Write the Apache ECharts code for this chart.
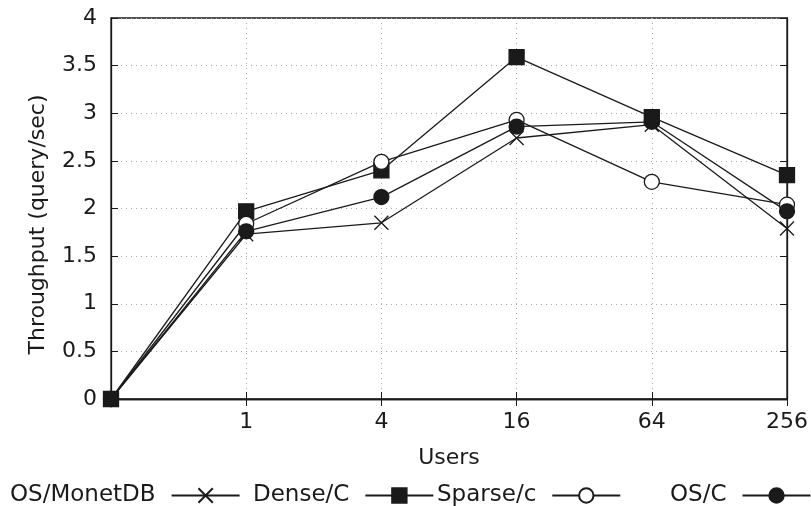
<!DOCTYPE html>
<html>
<head>
    <meta charset="utf-8">
    <title>Throughput vs Users</title>
    <style>
        html, body { margin: 0; padding: 0; background: #fff; }
        #chart { width: 811px; height: 506px; }
    </style>
</head>
<body>
<div id="chart"></div>
<script src="https://cdn.jsdelivr.net/npm/echarts@6/dist/echarts.min.js"></script>
<script type="text/javascript">
    // 数据
    var users = ['0', '1', '4', '16', '64', '256'];
    var yTicks = [0, 0.5, 1, 1.5, 2, 2.5, 3, 3.5, 4];
    var osMonetdb = [0, 1.73, 1.85, 2.74, 2.88, 1.79];
    var denseC = [0, 1.97, 2.40, 3.59, 2.96, 2.35];
    var sparseC = [0, 1.84, 2.49, 2.93, 2.28, 2.04];
    var osC = [0, 1.76, 2.12, 2.86, 2.91, 1.97];

    var ink = '#1a1a1a';
    var font = 'DejaVu Sans';
    var fs = 22;
    var crossPath = 'path://M0,0L10,10M10,0L0,10';

    var myChart = echarts.init(document.getElementById('chart'));

    function legendAt(name, left) {
        return {
            data: [name],
            left: left,
            top: 484,
            padding: 0,
            align: 'right',
            itemWidth: 68,
            itemHeight: 18,
            selectedMode: false,
            textStyle: { fontFamily: font, fontSize: 23, color: ink, padding: [0, 11, 0, 0] }
        };
    }

    function series(name, data, symbol, fill, size) {
        return {
            name: name,
            type: 'line',
            data: data,
            symbol: symbol,
            symbolSize: size,
            clip: false,
            lineStyle: { color: ink, width: 1.3 },
            itemStyle: { color: fill, borderColor: ink, borderWidth: 1.3 },
            emphasis: { disabled: true }
        };
    }

    var option = {
        animation: false,
        grid: {
            left: 111, right: 24, top: 18, bottom: 107,
            show: true, borderColor: ink, borderWidth: 1.3
        },
        legend: [
            legendAt('OS/MonetDB', 10),
            legendAt('Dense/C', 253),
            legendAt('Sparse/c', 437),
            legendAt('OS/C', 670)
        ],
        xAxis: [{
            type: 'category',
            data: users,
            boundaryGap: false,
            name: 'Users',
            nameLocation: 'middle',
            nameGap: 48,
            nameTextStyle: { fontFamily: font, fontSize: fs, color: ink },
            axisLine: { lineStyle: { color: ink, width: 1.3 } },
            axisTick: { inside: true, length: 7, lineStyle: { color: ink } },
            axisLabel: {
                margin: 12, fontFamily: font, fontSize: fs, color: ink,
                formatter: function (v) { return v === '0' ? '' : v; }
            },
            splitLine: { show: true, lineStyle: { color: '#aaa', type: [1, 4] } }
        }, {
            type: 'category',
            data: users,
            boundaryGap: false,
            position: 'top',
            axisLine: { lineStyle: { color: ink, width: 1.3 } },
            axisTick: { inside: true, length: 7, lineStyle: { color: ink } },
            axisLabel: { show: false },
            splitLine: { show: false }
        }],
        yAxis: [{
            type: 'value',
            min: yTicks[0],
            max: yTicks[yTicks.length - 1],
            interval: 0.5,
            name: 'Throughput (query/sec)',
            nameLocation: 'middle',
            nameRotate: 90,
            nameGap: 62,
            nameTextStyle: { fontFamily: font, fontSize: fs, color: ink, padding: [0, 32, 0, 0] },
            axisLine: { show: true, lineStyle: { color: ink, width: 1.3 } },
            axisTick: { show: true, inside: true, length: 7, lineStyle: { color: ink } },
            axisLabel: { margin: 14, fontFamily: font, fontSize: fs, color: ink },
            splitLine: { show: true, lineStyle: { color: '#aaa', type: [1, 4] } }
        }, {
            type: 'value',
            min: yTicks[0],
            max: yTicks[yTicks.length - 1],
            interval: 0.5,
            position: 'right',
            axisLine: { show: true, lineStyle: { color: ink, width: 1.3 } },
            axisTick: { show: true, inside: true, length: 7, lineStyle: { color: ink } },
            axisLabel: { show: false },
            splitLine: { show: false }
        }],
        series: [
            series('OS/MonetDB', osMonetdb, crossPath, '#fff', 14),
            series('Dense/C', denseC, 'rect', ink, 15),
            series('Sparse/c', sparseC, 'circle', '#fff', 15),
            series('OS/C', osC, 'circle', ink, 15)
        ]
    };

    myChart.setOption(option);
</script>
</body>
</html>
